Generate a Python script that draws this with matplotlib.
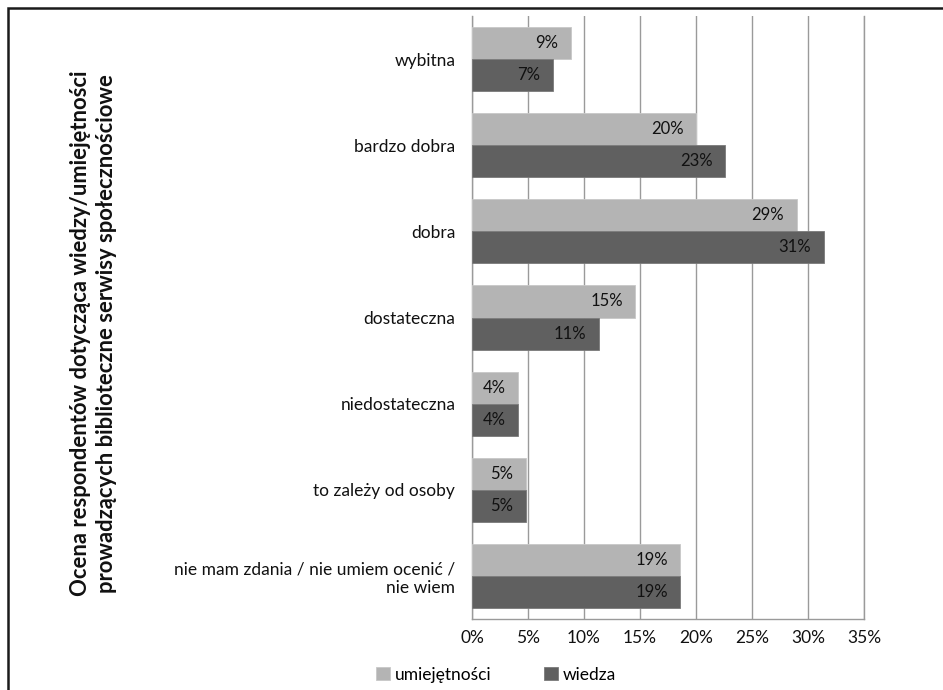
import numpy as np
import matplotlib.pyplot as plt
from matplotlib.patches import Rectangle
from matplotlib.ticker import FuncFormatter

plt.rcParams['font.family'] = ['Lato', 'DejaVu Sans']

categories = ["wybitna", "bardzo dobra", "dobra", "dostateczna", "niedostateczna",
              "to zależy od osoby", "nie mam zdania / nie umiem ocenić /\nnie wiem"]
umiejetnosci = [8.8, 20.0, 29.0, 14.6, 4.1, 4.8, 18.6]
wiedza = [7.2, 22.6, 31.4, 11.3, 4.1, 4.8, 18.6]
series_names = ["umiejętności", "wiedza"]
xticks = [0, 5, 10, 15, 20, 25, 30, 35]

c_light = "#b4b4b4"
c_dark = "#606060"
c_grid = "#9a9a9a"

fig = plt.figure(figsize=(9.43, 6.9), dpi=100)
ax = fig.add_axes([0.5005, 0.1029, 0.4157, 0.8739])

y = np.arange(len(categories))
h = 0.372
b1 = ax.barh(y - h / 2, umiejetnosci, height=h, color=c_light, edgecolor="#c8c8c8",
             linewidth=0.6, label=series_names[0], zorder=3)
b2 = ax.barh(y + h / 2, wiedza, height=h, color=c_dark, edgecolor="#7a7a7a",
             linewidth=0.6, label=series_names[1], zorder=3)

# value labels just inside the bar ends
for bars, vals in ((b1, umiejetnosci), (b2, wiedza)):
    for bar, v in zip(bars, vals):
        ax.annotate(f"{v:.0f}%", (v, bar.get_y() + bar.get_height() / 2),
                    xytext=(-9, 0), textcoords="offset points",
                    ha="right", va="center", fontsize=12, color="#111111", zorder=4)

ax.set_xlim(0, 35)
ax.set_ylim(len(categories) - 0.5, -0.5)
ax.set_xticks(xticks)
ax.xaxis.set_major_formatter(FuncFormatter(lambda v, p: f"{v:.0f}%"))
ax.set_yticks(y)
ax.set_yticklabels(categories, fontsize=12.5, ha="right", color="#111111")
ax.tick_params(axis="both", length=0, pad=12)
ax.tick_params(axis="x", labelsize=12.5, colors="#111111", pad=8)
ax.grid(axis="x", color=c_grid, linewidth=1, zorder=0)
for side in ("left", "bottom", "right"):
    ax.spines[side].set_color(c_grid)
    ax.spines[side].set_linewidth(1)
ax.spines["top"].set_visible(False)

fig.text(0.0995, 0.517, "Ocena respondentów dotycząca wiedzy/umiejętności\n"
         "prowadzących biblioteczne serwisy społecznościowe",
         rotation=90, ha="center", va="center", fontsize=15.8, fontweight="bold",
         linespacing=1.3, color="#111111")

fig.legend(loc="center", bbox_to_anchor=(0.526, 0.022), ncol=2, frameon=False,
           fontsize=12.5, handlelength=0.8, handleheight=0.8, handletextpad=0.3,
           columnspacing=3.0)

# outer frame
fig.add_artist(Rectangle((8 / 943, -0.05), 1.1, 1 - 8 / 690 + 0.05,
                         transform=fig.transFigure, fill=False,
                         edgecolor="#1a1a1a", linewidth=1.8))

fig.savefig("out.png", dpi=100)
